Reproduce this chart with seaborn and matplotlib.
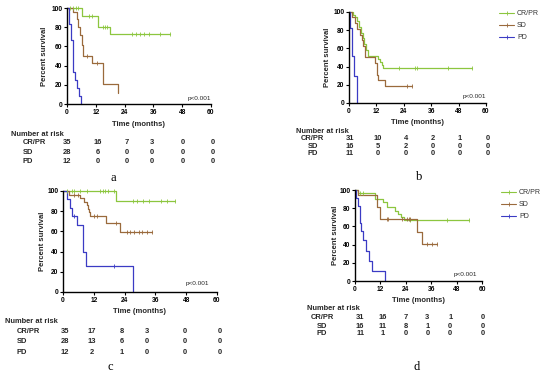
import numpy as np
import pandas as pd
import matplotlib
matplotlib.use('Agg')
import matplotlib.pyplot as plt
import matplotlib.transforms as mtransforms
from matplotlib.lines import Line2D
import seaborn as sns

# ---- survival steps (months, percent) ----
# panel a
a_crpr_t = [0, 6.4, 13.1, 17.9, 43]
a_crpr_s = [100, 92, 80, 73, 73]
a_sd_t = [0, 2.6, 4.0, 4.7, 5.4, 6.1, 6.8, 10.6, 15.1, 21.1]
a_sd_s = [100, 96, 89, 80, 72, 61, 50, 43, 21, 11]
a_pd_t = [0, 0.8, 1.6, 2.4, 3.3, 4.3, 5.1, 6.0]
a_pd_s = [100, 83, 67, 33, 25, 17, 8, 0]
a_crpr_cens = [1.1, 2.5, 3.6, 4.7, 9.2, 10.6, 15.1, 15.8, 16.8, 27, 28.8, 30.4, 32, 34, 38.8, 43]
a_sd_cens = [8.3, 12.5]
a_pd_cens = []

# panel b
b_crpr_t = [0, 1.6, 2.6, 3.7, 4.5, 5.3, 6.0, 6.6, 7.5, 8.5, 12.9, 13.6, 14.3, 14.8, 53.8]
b_crpr_s = [100, 97, 94, 90, 84, 77, 71, 65, 58, 52, 48, 45, 42, 39, 39]
b_sd_t = [0, 1.3, 2.6, 3.5, 4.8, 5.6, 6.3, 7.0, 11.4, 12.1, 12.9, 15.8, 27.5]
b_sd_s = [100, 94, 88, 81, 75, 69, 63, 50, 44, 31, 25, 19, 19]
b_pd_t = [0, 0.3, 1.4, 2.2, 3.3]
b_pd_s = [100, 82, 52, 30, 0]
b_crpr_cens = [22, 29, 29.7, 43.3, 53.8]
b_sd_cens = [25.5, 27.5]
b_pd_cens = []

# panel c
c_crpr_t = [0, 20.8, 43.7]
c_crpr_s = [100, 90, 90]
c_sd_t = [0, 2.2, 6.5, 8.0, 9.4, 9.8, 10.3, 10.7, 16.6, 22.4, 34.8]
c_sd_s = [100, 96, 93, 89, 86, 82, 79, 75, 68, 59, 59]
c_pd_t = [0, 1.6, 2.6, 3.6, 5.5, 7.8, 9.0, 27.1]
c_pd_s = [100, 92, 83, 75, 66, 40, 26, 0]
c_crpr_cens = [1.6, 3.5, 4.4, 6.8, 9.4, 14.6, 15.6, 16.4, 17.7, 19.8,
               27.1, 28.9, 31, 33.6, 38, 40.4, 43.7]
c_sd_cens = [4.2, 5.7, 12, 13.3, 20.5, 25, 26, 27.6, 29.6, 30.9, 32.9, 34.8]
c_pd_cens = [4.4, 19.8]

# panel d
d_crpr_t = [0, 1.6, 9.5, 13.4, 15, 19, 20.3, 21.8, 23, 53.7]
d_crpr_s = [100, 97, 90, 87, 81, 77, 74, 70, 67, 67]
d_sd_t = [0, 1.6, 10.2, 11.8, 29.1, 31.8, 38.5]
d_sd_s = [100, 94, 81, 68, 54, 41, 41]
d_pd_t = [0, 0.5, 1.3, 2.4, 2.8, 3.9, 5.0, 6.8, 7.9, 14.2]
d_pd_s = [100, 91, 82, 64, 55, 45, 33, 22, 11, 0]
d_crpr_cens = [2.5, 4.0, 26, 43.4, 53.7]
d_sd_cens = [15, 15.8, 22.1, 24.5, 25.3, 26.1, 34, 36.3, 38.5]
d_pd_cens = []

# number at risk
groups = ['CR/PR', 'SD', 'PD']
a_risk = [[35, 16, 7, 3, 0, 0], [28, 6, 0, 0, 0, 0], [12, 0, 0, 0, 0, 0]]
b_risk = [[31, 10, 4, 2, 1, 0], [16, 5, 2, 0, 0, 0], [11, 0, 0, 0, 0, 0]]
c_risk = [[35, 17, 8, 3, 0, 0], [28, 13, 6, 0, 0, 0], [12, 2, 1, 0, 0, 0]]
d_risk = [[31, 16, 7, 3, 1, 0], [16, 11, 8, 1, 0, 0], [11, 1, 0, 0, 0, 0]]

x_ticks = [0, 12, 24, 36, 48, 60]
y_ticks = [0, 20, 40, 60, 80, 100]
colors = ['#8cc63f', '#9a6a3c', '#3b3bc4']

sns.set_theme(style='ticks')
plt.rcParams['font.family'] = ['Liberation Sans', 'DejaVu Sans']

fig = plt.figure(figsize=(5.5, 3.77), dpi=100)

# layout: axes rect, ylabel x, xlabel y, title row y, risk rows y, col x, label x/align
panels = [
    dict(rect=[0.1218, 0.7241, 0.2618, 0.2546],
         curves=[(a_crpr_t, a_crpr_s, a_crpr_cens), (a_sd_t, a_sd_s, a_sd_cens), (a_pd_t, a_pd_s, a_pd_cens)],
         risk=a_risk, ylab_x=-0.153, xlab_y=-0.215, nar_y=-0.3125, rows_y=[-0.406, -0.5, -0.594],
         cols_x=[0.0, 0.215, 0.417, 0.59, 0.806, 1.014], nar_x=-0.389, lab_x=-0.306, lab_ha='left',
         p_xy=(1.0, 0.06), letter='a', letter_xy=(113, 178), legend=None),
    dict(rect=[0.6345, 0.7268, 0.2491, 0.2414],
         curves=[(b_crpr_t, b_crpr_s, b_crpr_cens), (b_sd_t, b_sd_s, b_sd_cens), (b_pd_t, b_pd_s, b_pd_cens)],
         risk=b_risk, ylab_x=-0.16, xlab_y=-0.209, nar_y=-0.308, rows_y=[-0.385, -0.473, -0.56],
         cols_x=[0.007, 0.212, 0.416, 0.613, 0.81, 1.015], nar_x=-0.387, lab_x=-0.265, lab_ha='center',
         p_xy=(1.0, 0.066), letter='b', letter_xy=(419, 177), legend=(499, 10)),
    dict(rect=[0.1145, 0.2255, 0.28, 0.268],
         curves=[(c_crpr_t, c_crpr_s, c_crpr_cens), (c_sd_t, c_sd_s, c_sd_cens), (c_pd_t, c_pd_s, c_pd_cens)],
         risk=c_risk, ylab_x=-0.136, xlab_y=-0.198, nar_y=-0.297, rows_y=[-0.396, -0.495, -0.594],
         cols_x=[0.013, 0.188, 0.383, 0.545, 0.79, 1.02], nar_x=-0.377, lab_x=-0.30, lab_ha='left',
         p_xy=(0.95, 0.08), letter='c', letter_xy=(110, 367), legend=None),
    dict(rect=[0.6455, 0.2546, 0.2309, 0.2414],
         curves=[(d_crpr_t, d_crpr_s, d_crpr_cens), (d_sd_t, d_sd_s, d_sd_cens), (d_pd_t, d_pd_s, d_pd_cens)],
         risk=d_risk, ylab_x=-0.15, xlab_y=-0.209, nar_y=-0.297, rows_y=[-0.396, -0.495, -0.582],
         cols_x=[0.04, 0.22, 0.40, 0.57, 0.75, 1.01], nar_x=-0.378, lab_x=-0.26, lab_ha='center',
         p_xy=(0.96, 0.077), letter='d', letter_xy=(417, 367), legend=(501, 189)),
]

W, H = 550, 377
for p in panels:
    ax = fig.add_axes(p['rect'])
    for (t, s, cens), col in zip(p['curves'], colors):
        df = pd.DataFrame({'t': t, 's': s})
        sns.lineplot(data=df, x='t', y='s', ax=ax, color=col, lw=0.9,
                     drawstyle='steps-post', estimator=None, sort=False,
                     legend=False, clip_on=False)
        if cens:
            idx = np.searchsorted(t, cens, side='right') - 1
            cy = np.asarray(s)[idx]
            sns.scatterplot(x=cens, y=cy, ax=ax, marker='|', s=7, color=col,
                            linewidth=0.6, legend=False, clip_on=False, zorder=3)

    ax.set_xlim(0, 60)
    ax.set_ylim(0, 100)
    ax.set_xticks(x_ticks)
    ax.set_yticks(y_ticks)
    sns.despine(ax=ax)
    for sp in ['left', 'bottom']:
        ax.spines[sp].set_linewidth(1.0)
        ax.spines[sp].set_color('black')
    ax.tick_params(axis='both', labelsize=4.8, length=2.2, width=0.8, pad=1.2, colors='black')
    for lab in ax.get_xticklabels() + ax.get_yticklabels():
        lab.set_fontweight('bold')

    ax.set_xlabel('Time (months)', fontsize=5.5, fontweight='bold', va='center')
    ax.xaxis.set_label_coords(0.5, p['xlab_y'])
    ax.set_ylabel('Percent survival', fontsize=5.5, fontweight='bold', va='center')
    ax.yaxis.set_label_coords(p['ylab_x'], 0.5)

    ax.text(p['p_xy'][0], p['p_xy'][1], 'p<0.001', transform=ax.transAxes,
            fontsize=4.6, ha='right', va='center')

    # number at risk table
    ax.text(p['nar_x'], p['nar_y'], 'Number at risk', transform=ax.transAxes,
            fontsize=5.4, fontweight='bold', ha='left', va='center')
    for g, ry, vals in zip(groups, p['rows_y'], p['risk']):
        ax.text(p['lab_x'], ry, g, transform=ax.transAxes, fontsize=5.4,
                fontweight='bold', ha=p['lab_ha'], va='center')
        for cx, v in zip(p['cols_x'], vals):
            ax.text(cx, ry, str(v), transform=ax.transAxes, fontsize=5.4,
                    fontweight='bold', ha='center', va='center')

    fig.text(p['letter_xy'][0] / W, 1 - p['letter_xy'][1] / H, p['letter'],
             fontsize=9, family=['Liberation Serif', 'DejaVu Serif'],
             ha='center', va='center', color='black')

    if p['legend'] is not None:
        handles = [Line2D([0], [0], color=c, lw=0.8, marker='|', ms=2.5, mew=0.6)
                   for c in colors]
        lx, ly = p['legend']
        fig.legend(handles, groups, loc='upper left',
                   bbox_to_anchor=(lx / W, 1 - ly / H), bbox_transform=fig.transFigure,
                   frameon=False, fontsize=5, borderpad=0, borderaxespad=0,
                   handlelength=2.2, handletextpad=0.4, labelspacing=0.75,
                   labelcolor='#333333')

fig.savefig('out.png', dpi=100)
